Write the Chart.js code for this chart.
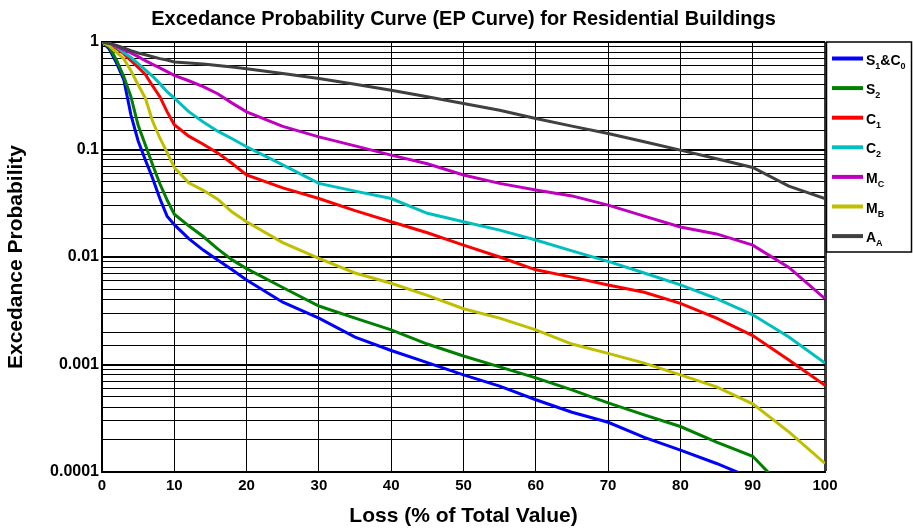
<!DOCTYPE html>
<html>
<head>
<meta charset="utf-8">
<script src="https://cdn.jsdelivr.net/npm/chart.js@4"></script>
<style>
  html, body { margin: 0; padding: 0; background: #fff; }
</style>
</head>
<body>
<canvas id="ep-chart" width="913" height="529"></canvas>
<script>
// loss (% of total value) where each curve is sampled
const lossPct = [0, 1, 2, 3, 4, 5, 6, 7, 8, 9, 10, 12, 14, 16, 18, 20, 25, 30, 35, 40, 45, 50, 55, 60, 65, 70, 75, 80, 85, 90, 95, 100];

// exceedance probability per building class
const s1c0 = [1, 0.86, 0.64, 0.45, 0.21, 0.12, 0.08, 0.054, 0.035, 0.024, 0.02, 0.0148, 0.0116, 0.0094, 0.0076, 0.0061, 0.0038, 0.0027, 0.0018, 0.00135, 0.00104, 0.0008, 0.00063, 0.00047, 0.00036, 0.00029, 0.00021, 0.00016, 0.00012, 0.000087, null, null];
const s2   = [1, 0.9, 0.68, 0.48, 0.31, 0.168, 0.11, 0.072, 0.048, 0.034, 0.025, 0.0195, 0.0155, 0.0119, 0.0094, 0.0078, 0.0052, 0.0035, 0.0027, 0.0021, 0.00155, 0.0012, 0.00095, 0.00075, 0.00058, 0.00044, 0.00034, 0.000265, 0.00019, 0.00014, 0.000063, null];
const c1   = [1, 0.95, 0.87, 0.78, 0.67, 0.58, 0.5, 0.39, 0.31, 0.225, 0.17, 0.133, 0.112, 0.093, 0.074, 0.058, 0.044, 0.035, 0.027, 0.0213, 0.0168, 0.0129, 0.01, 0.0076, 0.0065, 0.0055, 0.0047, 0.0037, 0.0027, 0.00186, 0.0011, 0.00064];
const c2   = [1, 0.97, 0.9, 0.8, 0.72, 0.63, 0.55, 0.48, 0.41, 0.345, 0.3, 0.225, 0.18, 0.148, 0.126, 0.106, 0.072, 0.0484, 0.041, 0.035, 0.0255, 0.0213, 0.0178, 0.0144, 0.0114, 0.0091, 0.0071, 0.0055, 0.0041, 0.0029, 0.0018, 0.00103];
const mc   = [1, 0.96, 0.91, 0.85, 0.79, 0.73, 0.67, 0.62, 0.575, 0.53, 0.49, 0.436, 0.385, 0.33, 0.27, 0.224, 0.164, 0.131, 0.108, 0.0886, 0.0737, 0.058, 0.0484, 0.042, 0.037, 0.0304, 0.024, 0.019, 0.0164, 0.0129, 0.008, 0.0041];
const mb   = [1, 0.92, 0.8, 0.7, 0.54, 0.4, 0.3, 0.183, 0.128, 0.094, 0.068, 0.049, 0.0417, 0.0345, 0.0262, 0.0213, 0.0136, 0.0097, 0.0071, 0.0057, 0.0044, 0.0033, 0.0027, 0.0021, 0.00155, 0.00127, 0.00103, 0.0008, 0.00062, 0.00043, 0.000236, 0.00012];
const aa   = [1, 0.97, 0.93, 0.88, 0.83, 0.79, 0.76, 0.73, 0.7, 0.68, 0.652, 0.637, 0.625, 0.605, 0.585, 0.565, 0.51, 0.457, 0.405, 0.356, 0.31, 0.268, 0.232, 0.194, 0.165, 0.141, 0.118, 0.0986, 0.082, 0.068, 0.0456, 0.035];

const seriesNames = ["S_{1}&C_{0}", "S_{2}", "C_{1}", "C_{2}", "M_{C}", "M_{B}", "A_{A}"];
const seriesValues = [s1c0, s2, c1, c2, mc, mb, aa];
const seriesColors = ["#0000ff", "#008000", "#ff0000", "#00bfbf", "#bf00bf", "#bfbf00", "#404040"];

const xTicks = [0, 10, 20, 30, 40, 50, 60, 70, 80, 90, 100];
const yTickLabels = ["1", "0.1", "0.01", "0.001", "0.0001"];

const FONT = "'Liberation Sans', Arial, Helvetica, sans-serif";
Chart.defaults.font.family = FONT;
Chart.defaults.color = "#000";

function decadeIndex(v) {
  const e = Math.log10(v);
  return Math.abs(e - Math.round(e)) < 1e-6 ? -Math.round(e) : -1;
}

// legend box on the right, labels with subscripts
const sideLegend = {
  id: "sideLegend",
  afterDraw(chart) {
    const ctx = chart.ctx;
    const left = chart.chartArea.right + 1.5;
    const top = chart.chartArea.top;
    const w = 85, h = 210;
    ctx.save();
    ctx.fillStyle = "#fff";
    ctx.fillRect(left, top, w, h);
    ctx.lineWidth = 1.5;
    ctx.strokeStyle = "#000";
    ctx.strokeRect(left, top, w, h);

    chart.data.datasets.forEach(function (ds, i) {
      const rowY = top + 16.5 + i * 29.6;
      ctx.strokeStyle = ds.borderColor;
      ctx.lineWidth = 4;
      ctx.beginPath();
      ctx.moveTo(left + 5.5, rowY);
      ctx.lineTo(left + 36.5, rowY);
      ctx.stroke();

      ctx.fillStyle = "#000";
      ctx.textBaseline = "alphabetic";
      ctx.textAlign = "left";
      let tx = left + 39.5;
      const parts = ds.label.split(/(_\{[^}]*\})/).filter(Boolean);
      parts.forEach(function (p) {
        if (p.startsWith("_{")) {
          const t = p.slice(2, -1);
          ctx.font = "bold 9px " + FONT;
          ctx.fillText(t, tx, rowY + 10);
          tx += ctx.measureText(t).width;
        } else {
          ctx.font = "bold 14px " + FONT;
          ctx.fillText(p, tx, rowY + 6);
          tx += ctx.measureText(p).width;
        }
      });
    });
    ctx.restore();
  }
};

new Chart(document.getElementById("ep-chart"), {
  type: "line",
  data: {
    datasets: seriesNames.map(function (name, i) {
      return {
        label: name,
        data: lossPct.map(function (x, j) { return { x: x, y: seriesValues[i][j] }; }),
        borderColor: seriesColors[i],
        backgroundColor: seriesColors[i],
        borderWidth: 3,
        pointRadius: 0,
        tension: 0,
        order: seriesNames.length - i
      };
    })
  },
  options: {
    responsive: false,
    animation: false,
    layout: { padding: { right: 88, bottom: 0 } },
    plugins: {
      legend: { display: false },
      tooltip: { enabled: false },
      title: {
        display: true,
        fullSize: false,
        text: "Excedance Probability Curve (EP Curve) for Residential Buildings",
        font: { size: 20, weight: "bold" },
        padding: { top: 7, bottom: 11 }
      }
    },
    scales: {
      x: {
        type: "linear",
        min: 0,
        max: 100,
        afterBuildTicks: function (scale) {
          scale.ticks = xTicks.map(function (v) { return { value: v }; });
        },
        afterFit: function (scale) { scale.height = 57; },
        ticks: { font: { size: 15, weight: "bold" }, padding: 5, maxRotation: 0 },
        grid: {
          drawTicks: false,
          color: function (c) { return c.tick && c.tick.value === 100 ? "#3a3a3a" : "#000"; },
          lineWidth: function (c) { return c.tick && c.tick.value === 100 ? 3 : 1; }
        },
        border: { color: "#000", width: 2 },
        title: {
          display: true,
          text: "Loss (% of Total Value)",
          font: { size: 21, weight: "bold" },
          padding: { top: 8, bottom: 0 }
        }
      },
      y: {
        type: "logarithmic",
        min: 0.0001,
        max: 1,
        afterFit: function (scale) { scale.width = 102; },
        ticks: {
          autoSkip: false,
          font: { size: 16, weight: "bold" },
          padding: 3,
          callback: function (v) {
            const k = decadeIndex(v);
            return k >= 0 ? yTickLabels[k] : "";
          }
        },
        grid: {
          drawTicks: false,
          color: "#000",
          lineWidth: function (c) { return c.tick && decadeIndex(c.tick.value) >= 0 ? 2 : 1; }
        },
        border: { color: "#000", width: 2 },
        title: {
          display: true,
          text: "Excedance Probability",
          font: { size: 21, weight: "bold" },
          padding: { top: 4, bottom: 0 }
        }
      }
    }
  },
  plugins: [sideLegend]
});
</script>
</body>
</html>
